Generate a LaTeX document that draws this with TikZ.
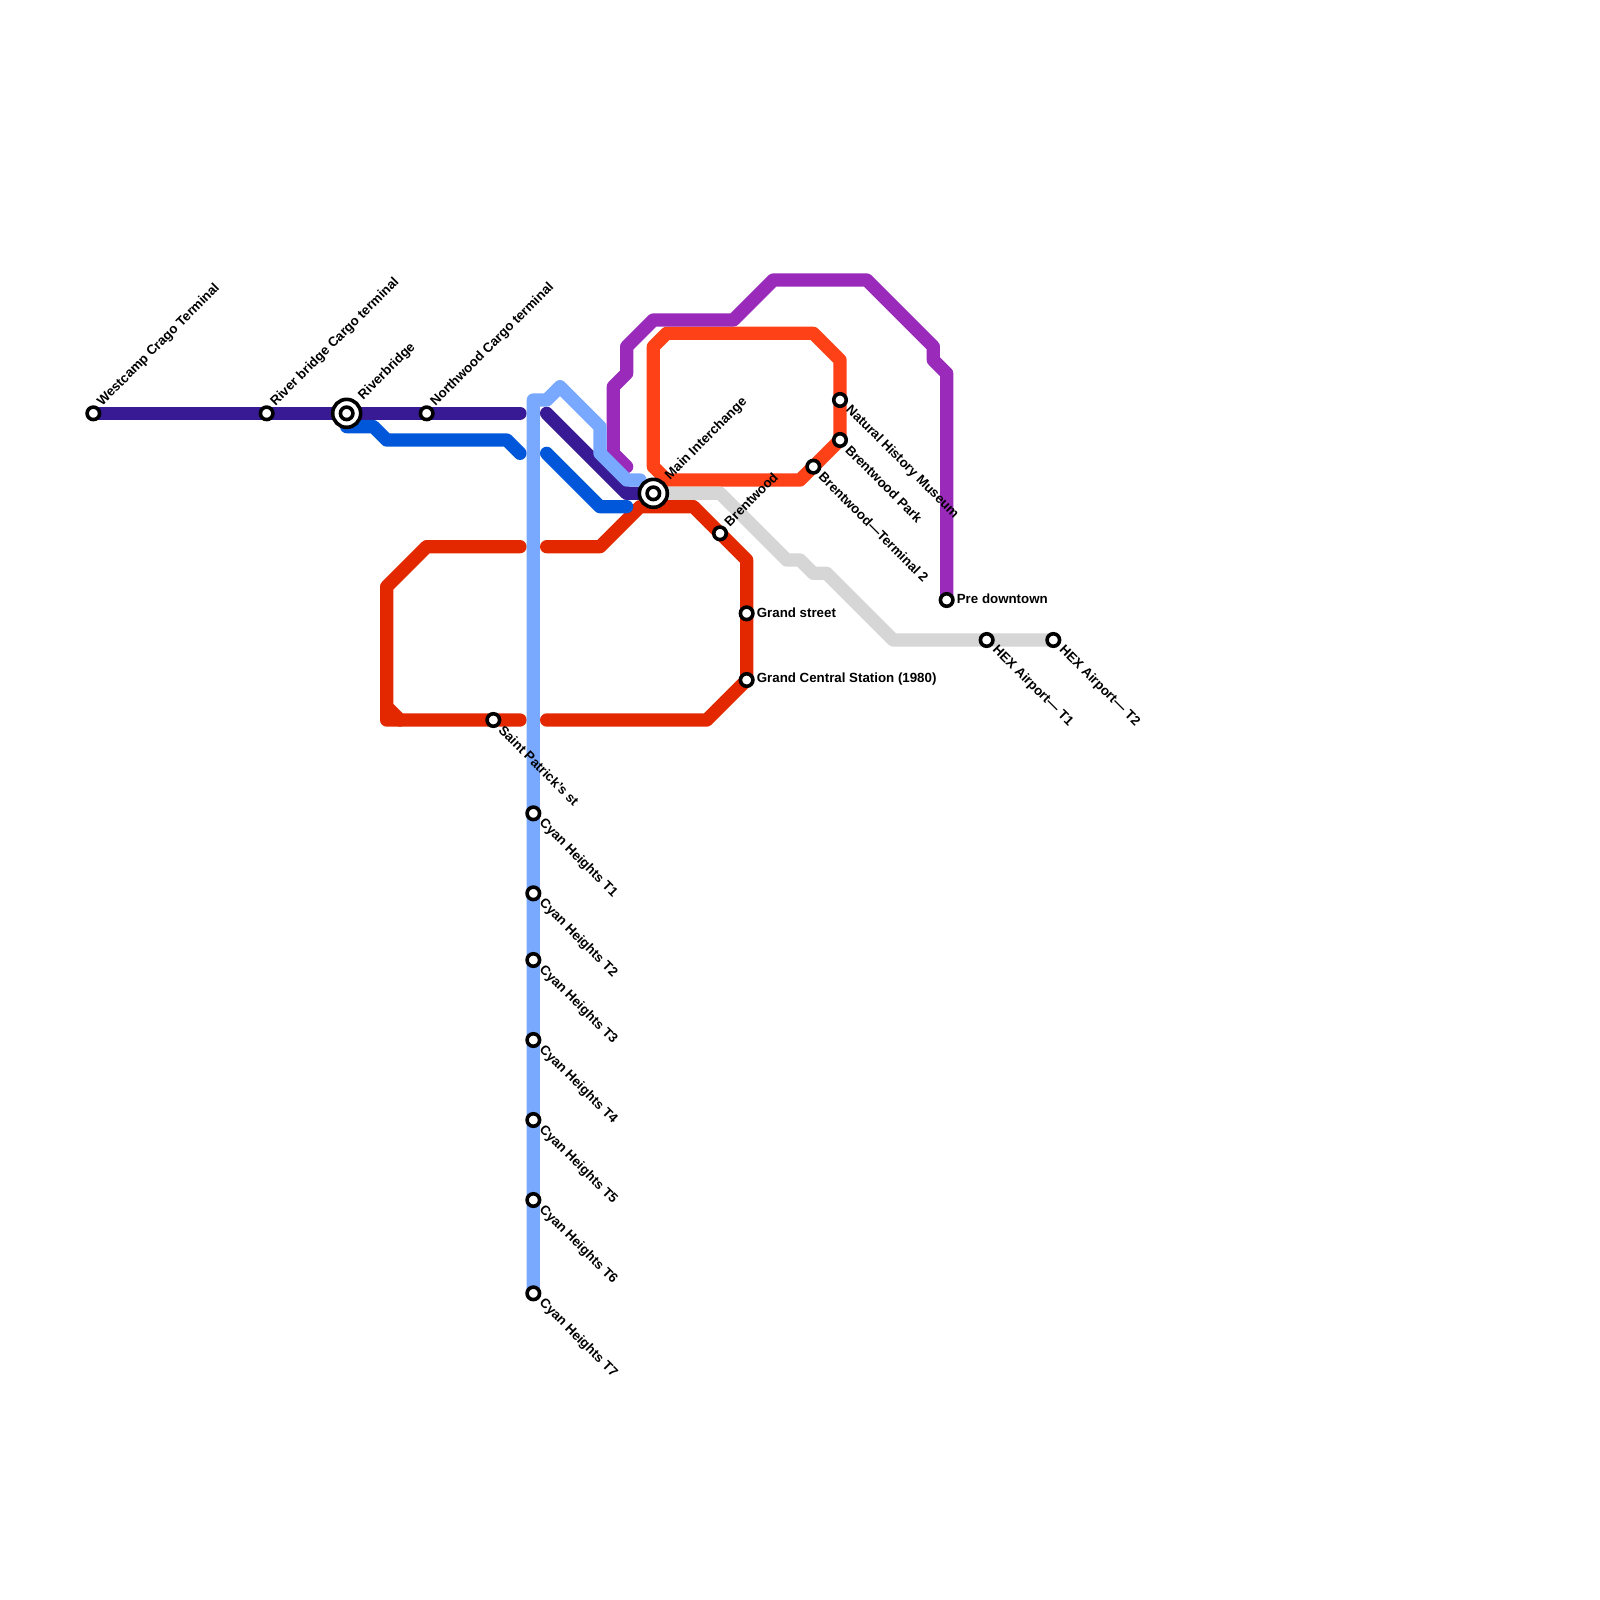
\documentclass[tikz,border=0pt]{standalone}
\usepackage{fontspec}
\setmainfont{Liberation Sans}
\definecolor{cdark}{HTML}{381A94}
\definecolor{cblue}{HTML}{0057D9}
\definecolor{ccyan}{HTML}{79A8FF}
\definecolor{cpurp}{HTML}{992ABA}
\definecolor{corange}{HTML}{FF4117}
\definecolor{cred}{HTML}{E32800}
\definecolor{cgray}{HTML}{D6D6D6}
\tikzset{
  metro/.style={line width=13.3pt,line cap=round,line join=round},
  stn/.style={circle,draw=black,fill=white,line width=3.6pt,minimum size=12.5pt,inner sep=0pt},
  hub/.style={circle,draw=black,fill=white,line width=3.6pt,minimum size=28pt,inner sep=0pt},
  lbl/.style={font=\bfseries\fontsize{13.3}{14}\selectfont,text=black,inner sep=0pt},
  lblne/.style={lbl,anchor=west,rotate=45,xshift=11pt,yshift=2pt},
  lblnehub/.style={lbl,anchor=west,rotate=45,xshift=21pt,yshift=1pt},
  lblse/.style={lbl,anchor=west,rotate=-45,xshift=11pt},
  lble/.style={lbl,anchor=west,xshift=10pt,yshift=1pt},
}
\begin{document}
\begin{tikzpicture}[x=13.3333pt,y=-13.3333pt]
\useasboundingbox (0,0) rectangle (120,120);
\coordinate (westcamp) at (7,31);
\coordinate (riverbridgecargo) at (20,31);
\coordinate (riverbridge) at (26,31);
\coordinate (northwood) at (32,31);
\coordinate (main) at (49,37);
\coordinate (brentwood) at (54,40);
\coordinate (terminaltwo) at (61,35);
\coordinate (brentwoodpark) at (63,33);
\coordinate (museum) at (63,30);
\coordinate (predowntown) at (71,45);
\coordinate (hexone) at (74,48);
\coordinate (hextwo) at (79,48);
\coordinate (grandstreet) at (56,46);
\coordinate (grandcentral) at (56,51);
\coordinate (saintpatrick) at (37,54);
\coordinate (cyanone) at (40,61);
\coordinate (cyantwo) at (40,67);
\coordinate (cyanthree) at (40,72);
\coordinate (cyanfour) at (40,78);
\coordinate (cyanfive) at (40,84);
\coordinate (cyansix) at (40,90);
\coordinate (cyanseven) at (40,97);
% red
\draw[metro,cred] (39,41) -- (32,41) -- (29,44) -- (29,54) -- (saintpatrick) -- (39,54);
\draw[metro,cred] (29,53) -- (30,54);
\draw[metro,cred] (41,41) -- (45,41) -- (48,38) -- (52,38) -- (brentwood) -- (56,42) -- (grandstreet) -- (grandcentral) -- (53,54) -- (41,54);
% orange
\draw[metro,corange] (49,35) -- (49,26) -- (50,25) -- (61,25) -- (63,27) -- (museum) -- (brentwoodpark) -- (terminaltwo) -- (60,36) -- (50,36) -- (49,35) -- cycle;
% gray
\draw[metro,cgray] (main) -- (54,37) -- (59,42) -- (60,42) -- (61,43) -- (62,43) -- (67,48) -- (hexone) -- (hextwo);
% purple
\draw[metro,cpurp] (47,35) -- (46,34) -- (46,29) -- (47,28) -- (47,26) -- (49,24) -- (55,24) -- (58,21) -- (65,21) -- (70,26) -- (70,27) -- (71,28) -- (predowntown);
% blue
\draw[metro,cblue] (riverbridge) -- (26,32) -- (28,32) -- (29,33) -- (38,33) -- (39,34);
\draw[metro,cblue] (41,34) -- (45,38) -- (47,38);
% dark
\draw[metro,cdark] (westcamp) -- (riverbridgecargo) -- (riverbridge) -- (northwood) -- (39,31);
\draw[metro,cdark] (41,31) -- (47,37) -- (main);
% cyan
\draw[metro,ccyan] (cyanseven) -- (cyanone) -- (40,30) -- (41,30) -- (42,29) -- (45,32) -- (45,34) -- (47,36) -- (48,36);
% stations
\node[stn] (nwestcamp) at (westcamp) {};
\node[stn] (nriverbridgecargo) at (riverbridgecargo) {};
\node[hub] (nriverbridgeo) at (riverbridge) {};
\node[stn] (nriverbridge) at (riverbridge) {};
\node[stn] (nnorthwood) at (northwood) {};
\node[hub] (nmaino) at (main) {};
\node[stn] (nmain) at (main) {};
\node[stn] (nbrentwood) at (brentwood) {};
\node[stn] (nterminaltwo) at (terminaltwo) {};
\node[stn] (nbrentwoodpark) at (brentwoodpark) {};
\node[stn] (nmuseum) at (museum) {};
\node[stn] (npredowntown) at (predowntown) {};
\node[stn] (nhexone) at (hexone) {};
\node[stn] (nhextwo) at (hextwo) {};
\node[stn] (ngrandstreet) at (grandstreet) {};
\node[stn] (ngrandcentral) at (grandcentral) {};
\node[stn] (nsaintpatrick) at (saintpatrick) {};
\node[stn] (ncyanone) at (cyanone) {};
\node[stn] (ncyantwo) at (cyantwo) {};
\node[stn] (ncyanthree) at (cyanthree) {};
\node[stn] (ncyanfour) at (cyanfour) {};
\node[stn] (ncyanfive) at (cyanfive) {};
\node[stn] (ncyansix) at (cyansix) {};
\node[stn] (ncyanseven) at (cyanseven) {};
% labels
\node[lblne] (lwestcamp) at (westcamp) {Westcamp Crago Terminal};
\node[lblne] (lriverbridgecargo) at (riverbridgecargo) {River bridge Cargo terminal};
\node[lblnehub] (lriverbridge) at (riverbridge) {Riverbridge};
\node[lblne] (lnorthwood) at (northwood) {Northwood Cargo terminal};
\node[lblnehub] (lmain) at (main) {Main Interchange};
\node[lblne] (lbrentwood) at (brentwood) {Brentwood};
\node[lblse] (lterminaltwo) at (terminaltwo) {Brentwood—Terminal 2};
\node[lblse] (lbrentwoodpark) at (brentwoodpark) {Brentwood Park};
\node[lblse] (lmuseum) at (museum) {Natural History Museum};
\node[lble] (lpredowntown) at (predowntown) {Pre downtown};
\node[lblse] (lhexone) at (hexone) {HEX Airport— T1};
\node[lblse] (lhextwo) at (hextwo) {HEX Airport— T2};
\node[lble] (lgrandstreet) at (grandstreet) {Grand street};
\node[lble] (lgrandcentral) at (grandcentral) {Grand Central Station (1980)};
\node[lblse] (lsaintpatrick) at (saintpatrick) {Saint Patrick’s st};
\node[lblse] (lcyanone) at (cyanone) {Cyan Heights T1};
\node[lblse] (lcyantwo) at (cyantwo) {Cyan Heights T2};
\node[lblse] (lcyanthree) at (cyanthree) {Cyan Heights T3};
\node[lblse] (lcyanfour) at (cyanfour) {Cyan Heights T4};
\node[lblse] (lcyanfive) at (cyanfive) {Cyan Heights T5};
\node[lblse] (lcyansix) at (cyansix) {Cyan Heights T6};
\node[lblse] (lcyanseven) at (cyanseven) {Cyan Heights T7};
\end{tikzpicture}
\end{document}
